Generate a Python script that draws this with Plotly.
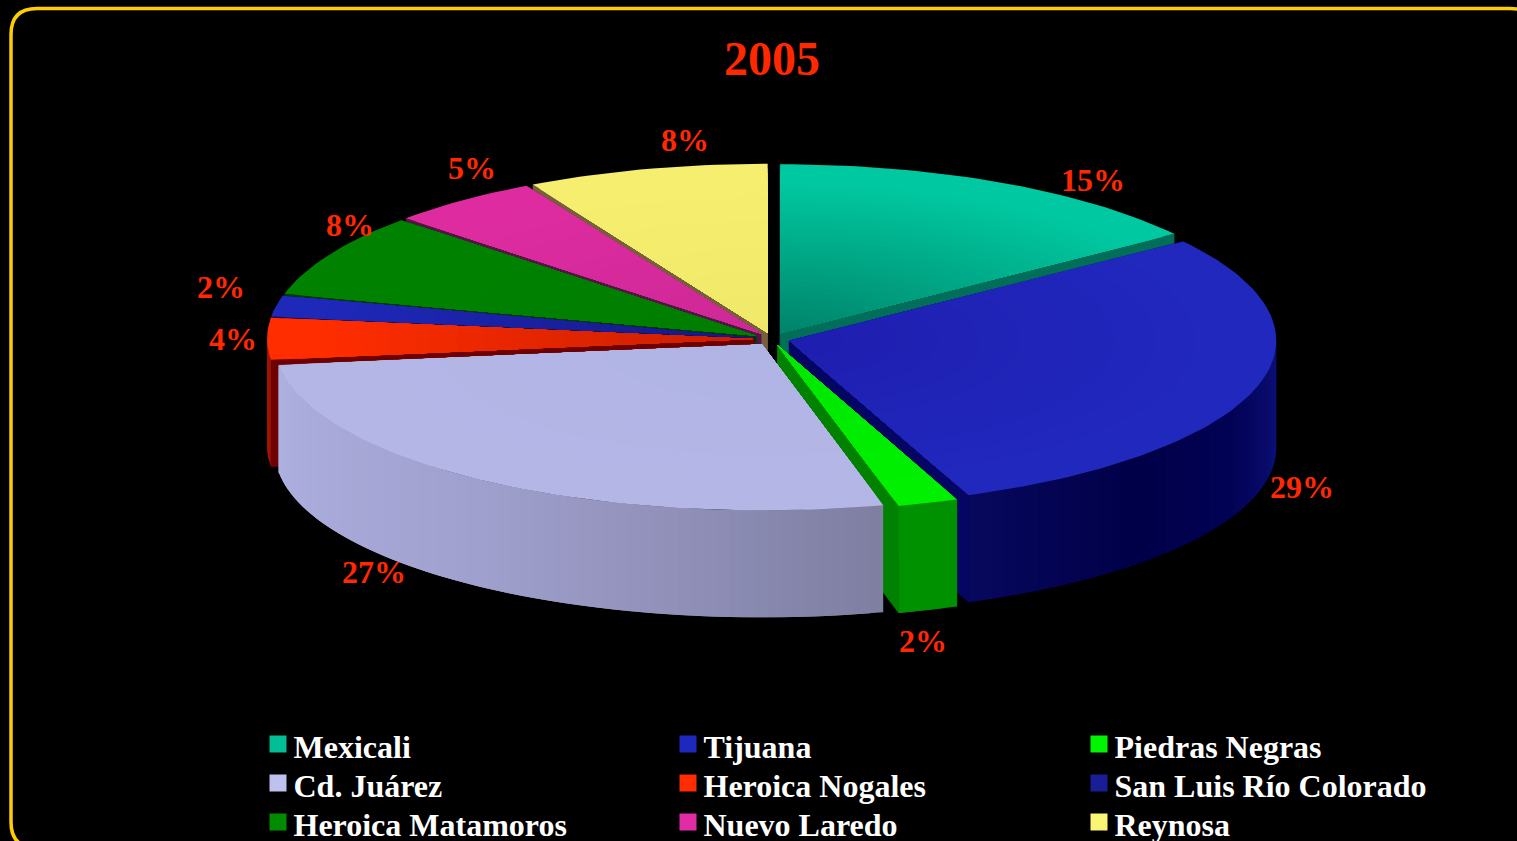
import math
import plotly.graph_objects as go

# ---- data ----
TITLE = "2005"
cities = ["Mexicali", "Tijuana", "Piedras Negras", "Cd. Juárez", "Heroica Nogales",
          "San Luis Río Colorado", "Heroica Matamoros", "Nuevo Laredo", "Reynosa"]
shares = [15, 29, 2, 27, 4, 2, 8, 5, 8]

# ---- styles ----
top_colors = [(0, 200, 160), (33, 40, 190), (0, 240, 0), (180, 182, 230), (255, 45, 0),
              (30, 40, 185), (0, 130, 0), (222, 44, 160), (245, 238, 110)]
top_inner = [(0, 130, 105), (30, 30, 175), (0, 230, 0), (176, 180, 228), (200, 30, 0),
             (20, 25, 130), (0, 125, 0), (205, 40, 150), (240, 232, 105)]
cut_colors = [(0, 110, 88), (5, 5, 100), (0, 130, 0), (120, 122, 155), (110, 0, 0),
              (15, 15, 90), (0, 60, 0), (85, 20, 70), (120, 95, 60)]
wall_stops = [
    [(0, (0, 150, 120)), (360, (0, 150, 120))],
    [(90, (14, 18, 125)), (115, (2, 2, 85)), (135, (0, 0, 72)), (160, (8, 8, 95))],
    [(150, (0, 145, 0)), (170, (0, 145, 0))],
    [(165, (125, 126, 160)), (185, (140, 140, 180)), (215, (160, 160, 206)), (263, (174, 176, 224))],
    [(262, (160, 20, 0)), (270, (160, 20, 0))],
    [(0, (20, 20, 100)), (360, (20, 20, 100))],
    [(0, (0, 90, 0)), (360, (0, 90, 0))],
    [(0, (150, 30, 110)), (360, (150, 30, 110))],
    [(0, (170, 165, 80)), (360, (170, 165, 80))],
]
swatch_colors = [(0, 190, 150), (30, 40, 190), (0, 245, 0), (190, 192, 238), (255, 45, 0),
                 (25, 30, 150), (0, 140, 0), (225, 45, 165), (250, 245, 115)]
RED = "rgb(255,40,0)"
FONT = "Liberation Serif"

# ---- geometry of the drawing ----
CX, CY, RX, RY, DEPTH = 772, 339, 487, 166, 107
RY_BACK = 169
EX, EY = 18, 6.5
paint_order = [8, 7, 0, 6, 5, 4, 1, 2, 3]
label_xy = [(1093, 183), (1302, 490), (923, 644), (374, 575), (233, 342),
            (221, 290), (350, 228), (472, 171), (685, 143)]
legend_x = [278, 688, 1099]
legend_y = [744, 783, 822]

fig = go.Figure()


def rgb(c):
    return "rgb(%d,%d,%d)" % tuple(round(v) for v in c)


def poly(xs, ys, color, edge=0.0):
    fig.add_trace(go.Scatter(x=xs, y=ys, mode="lines", fill="toself", fillcolor=rgb(color),
                             line=dict(color=rgb(color), width=edge),
                             hoverinfo="skip", showlegend=False))


def lerp(a, b, t):
    return tuple(p + (q - p) * t for p, q in zip(a, b))


def wall_color(stops, th):
    if th <= stops[0][0]:
        return stops[0][1]
    for (t0, c0), (t1, c1) in zip(stops, stops[1:]):
        if th <= t1:
            return lerp(c0, c1, (th - t0) / (t1 - t0))
    return stops[-1][1]


def rim(tx, ty, th, r=1.0):
    a = math.radians(th)
    c = math.cos(a)
    return tx + r * RX * math.sin(a), ty - r * (RY_BACK if c > 0 else RY) * c


starts, acc = [], 0
total = sum(shares)
for v in shares:
    starts.append(acc / total * 360)
    acc += v

for i in paint_order:
    a0 = starts[i]
    a1 = a0 + shares[i] / total * 360
    mid = math.radians((a0 + a1) / 2)
    tx, ty = CX + EX * math.sin(mid), CY - EY * math.cos(mid)

    # radial cut faces
    for th in (a0, a1):
        x, y = rim(tx, ty, th)
        poly([tx, x, x, tx, tx], [ty, y, y + DEPTH, ty + DEPTH, ty], cut_colors[i], 0.5)

    # outer wall: overlapping strips, painted from the far end so no seam shows
    w0, w1 = max(a0, 90), min(a1, 270)
    if w1 > w0:
        n = max(1, int((w1 - w0) / 1.5))
        for k in range(n):
            b0 = w0 + (w1 - w0) * k / n
            b1 = w0 + (w1 - w0) * min(k + 2, n) / n
            ps = [rim(tx, ty, b0 + (b1 - b0) * j / 3) for j in range(4)]
            xs = [p[0] for p in ps] + [p[0] for p in reversed(ps)] + [ps[0][0]]
            ys = [p[1] for p in ps] + [p[1] + DEPTH for p in reversed(ps)] + [ps[0][1]]
            poly(xs, ys, wall_color(wall_stops[i], b0 + (w1 - w0) / n / 2))

    # top face, outer to inner so the shading runs towards the centre
    rings = 36
    n_arc = max(2, int((a1 - a0) / 1.5))
    for k in range(rings, 0, -1):
        r = k / rings
        pts = [rim(tx, ty, a0 + (a1 - a0) * j / n_arc, r) for j in range(n_arc + 1)]
        xs = [tx] + [p[0] for p in pts] + [tx]
        ys = [ty] + [p[1] for p in pts] + [ty]
        poly(xs, ys, lerp(top_inner[i], top_colors[i], min(1.0, r / 0.9)))

# percent labels
fig.add_trace(go.Scatter(x=[p[0] for p in label_xy], y=[p[1] for p in label_xy], mode="text",
                         text=[f"<b>{v}%</b>" for v in shares], textposition="middle center",
                         textfont=dict(family=FONT, size=32, color=RED),
                         hoverinfo="skip", showlegend=False))
# title
fig.add_trace(go.Scatter(x=[772], y=[63], mode="text", text=["<b>" + TITLE + "</b>"],
                         textposition="middle center",
                         textfont=dict(family=FONT, size=48, color=RED),
                         hoverinfo="skip", showlegend=False))

# legend, three columns by three rows
lx = [legend_x[i % 3] for i in range(len(cities))]
ly = [legend_y[i // 3] for i in range(len(cities))]
fig.add_trace(go.Scatter(x=lx, y=ly, mode="markers",
                         marker=dict(symbol="square", size=17, color=[rgb(c) for c in swatch_colors],
                                     line=dict(width=0)),
                         hoverinfo="skip", showlegend=False))
fig.add_trace(go.Scatter(x=[x + 15.5 for x in lx], y=[y + 6 for y in ly], mode="text",
                         text=[f"<b>{c}</b>" for c in cities], textposition="middle right",
                         textfont=dict(family=FONT, size=32, color="white"),
                         hoverinfo="skip", showlegend=False))

# rounded frame that runs off the right and bottom of the page
L, T, R, B, C = 11, 8.5, 1536, 848, 26
frame = (f"M {L} {T + C} Q {L} {T} {L + C} {T} L {R - C} {T} Q {R} {T} {R} {T + C} "
         f"L {R} {B - C} Q {R} {B} {R - C} {B} L {L + C} {B} Q {L} {B} {L} {B - C} Z")
fig.update_layout(
    width=1517, height=841, margin=dict(l=0, r=0, t=0, b=0),
    paper_bgcolor="black", plot_bgcolor="black", showlegend=False,
    xaxis=dict(range=[0, 1517], visible=False, fixedrange=True),
    yaxis=dict(range=[841, 0], visible=False, fixedrange=True),
    shapes=[dict(type="path", path=frame, xref="x", yref="y",
                 line=dict(color="rgb(255,205,0)", width=3.5), layer="below")],
)

fig.write_html("out.html", config={"displayModeBar": False},
               post_script="document.body.style.margin='0';document.body.style.background='black';"
                           "document.documentElement.style.overflow='hidden';")
